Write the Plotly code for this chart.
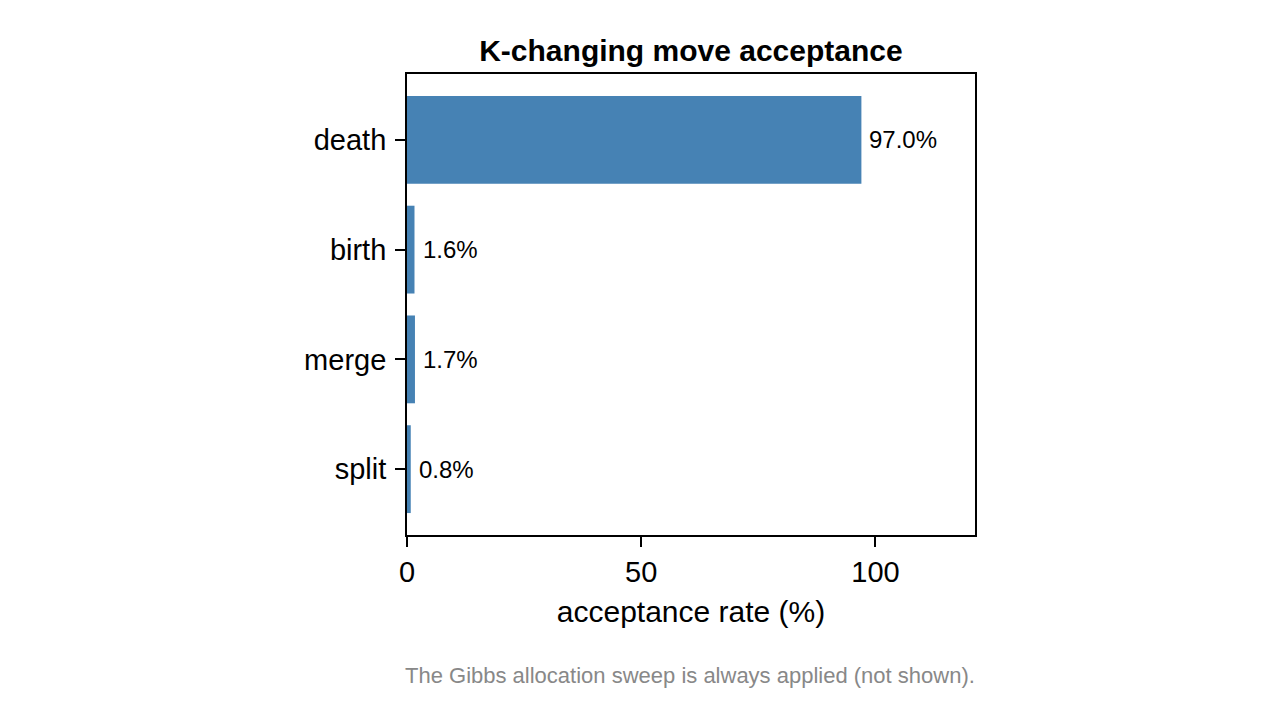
import plotly.graph_objects as go

# K-changing move types and their acceptance rates (%)
moves = ['death', 'birth', 'merge', 'split']
rates = [97.0, 1.6, 1.7, 0.8]
labels = [f'{r:.1f}%' for r in rates]

FONT = 'Liberation Sans'

fig = go.Figure()
fig.add_trace(go.Bar(
    x=rates,
    y=moves,
    orientation='h',
    marker_color='#4682B4',
    marker_line_width=0,
    width=0.8,
))

# value labels just right of each bar
for m, r, t in zip(moves, rates, labels):
    fig.add_annotation(x=r, y=m, text=t, showarrow=False,
                       xanchor='left', xshift=6,
                       font=dict(family=FONT, size=24, color='black'))

fig.add_annotation(
    text='The Gibbs allocation sweep is always applied (not shown).',
    xref='paper', yref='paper', x=1, y=-0.305, xshift=2,
    xanchor='right', yanchor='middle', showarrow=False,
    font=dict(family=FONT, size=22, color='#888888'))

# the page body has an 8px margin, so the figure is sized/offset to suit
fig.update_layout(
    width=1264, height=704,
    paper_bgcolor='white', plot_bgcolor='white',
    margin=dict(l=399, r=297, t=66, b=177),
    showlegend=False,
    title=dict(text='<b>K-changing move acceptance</b>', x=0.5403, xanchor='center',
               y=0.9403, yanchor='middle',
               font=dict(family=FONT, size=30, color='black')),
    font=dict(family=FONT, size=29, color='black'),
)
fig.update_xaxes(
    range=[0, 121.25], tickvals=[0, 50, 100],
    showgrid=False, zeroline=False,
    showline=True, linecolor='black', linewidth=1.8, mirror=True,
    ticks='outside', ticklen=10, tickwidth=1.8, tickcolor='black',
    title=dict(text='acceptance rate (%)', standoff=14,
               font=dict(family=FONT, size=30)),
    tickfont=dict(family=FONT, size=29),
)
fig.update_yaxes(
    categoryorder='array', categoryarray=moves,
    range=[3.6, -0.6],
    showgrid=False, zeroline=False,
    showline=True, linecolor='black', linewidth=1.8, mirror=True,
    ticks='outside', ticklen=10, tickwidth=1.8, tickcolor='black',
    ticklabelstandoff=3,
    tickfont=dict(family=FONT, size=29),
)

fig.write_html('out.html')
